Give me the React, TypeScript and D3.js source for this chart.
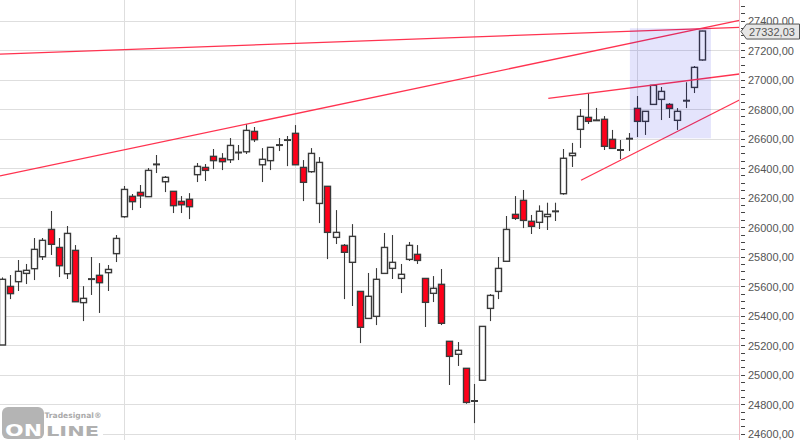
import React from "react";
import * as d3 from "d3";

const highs = [25663,25679,25781,25754,25930,25930,26113,25930,26011,25882,25604,25801,25760,25747,25950,26282,26228,26289,26404,26492,26350,26246,26214,26234,26438,26431,26533,26505,26607,26560,26702,26682,26539,26544,26607,26621,26695,26458,26539,26478,26280,26119,25889,26024,25568,25693,25726,25964,25950,25754,25903,25882,25656,25672,25720,25230,25225,25047,24941,25331,25550,25801,26079,26214,26255,26086,26151,26169,26169,26533,26574,26804,26912,26811,26756,26662,26594,26641,26892,26788,26964,26953,26844,26810,26985,27095,27334];
const lows = [25205,25516,25571,25618,25645,25781,25815,25665,25652,25498,25367,25544,25422,25571,25767,26067,26119,26133,26210,26370,26241,26099,26099,26058,26309,26316,26397,26390,26438,26458,26499,26580,26309,26390,26519,26417,26426,26180,26372,26031,25787,25889,25516,25469,25218,25381,25340,25690,25652,25557,25774,25754,25327,25496,25340,24934,25063,24807,24676,24966,25367,25516,25772,26052,25997,25957,25991,25984,26045,26223,26411,26540,26702,26725,26526,26537,26465,26519,26614,26628,26835,26729,26743,26662,26810,26912,27131];
const opens = [25205,25602,25634,25690,25722,25803,25988,25866,25688,25846,25492,25647,25677,25695,25824,26074,26212,26239,26210,26426,26311,26246,26178,26192,26359,26408,26483,26469,26460,26508,26514,26652,26426,26454,26557,26591,26639,26408,26379,26164,26280,25934,25880,25765,25568,25385,25399,25690,25724,25656,25785,25819,25656,25555,25616,25230,25142,25047,24821,24966,25453,25568,25772,26090,26185,26043,26036,26075,26108,26230,26488,26666,26747,26725,26734,26598,26524,26600,26808,26720,26835,26869,26835,26727,26858,26950,27136];
const closes = [25650,25553,25704,25711,25853,25914,25887,25742,25961,25498,25521,25656,25627,25717,25927,26259,26176,26216,26388,26431,26341,26149,26155,26142,26415,26388,26454,26447,26557,26510,26659,26596,26463,26544,26562,26596,26426,26307,26503,26442,25968,25968,25833,25941,25325,25535,25650,25866,25765,25684,25880,25778,25494,25589,25352,25128,25169,24816,24830,25331,25541,25724,25988,26063,26049,26009,26111,26090,26113,26470,26504,26754,26720,26729,26551,26537,26528,26605,26720,26788,26964,26923,26808,26788,26862,27086,27332];

// [index, price, index, price]
const trendLines = [
  [-0.28, 27176, 90.56, 27357],
  [-0.28, 26350, 90.56, 27405],
  [67.08, 26876, 90.56, 27041],
  [71.1, 26321, 90.56, 26865],
];
const zoneIndex = [77.1, 87.06];
const zonePrice = [26605, 27351];
const verticalGridAt = [15, 36, 58, 78];
const priceLabels = [24600,24800,25000,25200,25400,25600,25800,26000,26200,26400,26600,26800,27000,27200,27400];
const minorTicks = d3.range(24600, 27551, 50);
const lastPrice = "27332,03";
const lastValue = 27332;

const W = 800, H = 440;
const x = d3.scaleLinear().domain([0, 86]).range([2.3, 702.3]);
const y = d3.scaleLinear().domain([24600, 27400]).range([434.3, 21]);
const crisp = (v: number) => Math.round(v - 0.5) + 0.5;
const axisX = 739.5;
const fontUI = "'Liberation Sans', Arial, sans-serif";
const fontLogo = "'DejaVu Sans', sans-serif";

export default function App() {
  const line = d3.line<[number, number]>().x(d => x(d[0])).y(d => y(d[1]));
  return (
    <svg width={W} height={H} viewBox={`0 0 ${W} ${H}`}
      style={{ position: "fixed", left: 0, top: 0, background: "#fff", display: "block" }}>
      {priceLabels.map(p => (
        <line key={p} x1={0} x2={axisX} y1={crisp(y(p))} y2={crisp(y(p))} stroke="#dedede" strokeWidth={1} />
      ))}
      {verticalGridAt.map(i => (
        <line key={i} x1={crisp(x(i))} x2={crisp(x(i))} y1={0} y2={H} stroke="#dedede" strokeWidth={1} />
      ))}
      {highs.map((h, i) => {
        const cx = crisp(x(i));
        const top = y(Math.max(opens[i], closes[i]));
        const bot = y(Math.min(opens[i], closes[i]));
        const red = opens[i] > closes[i];
        const doji = Math.abs(opens[i] - closes[i]) < 12;
        return (
          <g key={i} stroke="#3a3a3a">
            <line x1={cx} x2={cx} y1={y(h)} y2={y(lows[i])} strokeWidth={1.1} />
            {doji
              ? <line x1={cx - 3.5} x2={cx + 3.5} y1={(top + bot) / 2} y2={(top + bot) / 2} strokeWidth={2} />
              : <rect x={cx - 3} y={top} width={6} height={bot - top} strokeWidth={1.4}
                  fill={red ? "#ff0019" : "#ffffff"} />}
          </g>
        );
      })}
      {trendLines.map((t, k) => (
        <path key={k} d={line([[t[0], t[1]], [t[2], t[3]]]) ?? ""} fill="none" stroke="#ff3350" strokeWidth={1.3} />
      ))}
      <rect x={x(zoneIndex[0])} width={x(zoneIndex[1]) - x(zoneIndex[0])}
        y={y(zonePrice[1])} height={y(zonePrice[0]) - y(zonePrice[1])}
        fill="#0000e6" fillOpacity={0.105} />
      <rect x={axisX + 0.5} y={0} width={W - axisX} height={H} fill="#fff" />
      <line x1={axisX} x2={axisX} y1={0} y2={H} stroke="#f0b9c2" strokeWidth={1} />
      {minorTicks.map(p => (
        <line key={p} x1={741} x2={745} y1={crisp(y(p))} y2={crisp(y(p))} stroke="#444" strokeWidth={1} />
      ))}
      {priceLabels.map(p => (
        <text key={p} x={748} y={y(p) + 4} fontFamily={fontUI} fontSize={11} fill="#555">
          {p + ",00"}
        </text>
      ))}
      <path d={`M741,${y(lastValue) + 0.5} L746.5,${y(lastValue) - 7} H799.5 V${y(lastValue) + 8} H746.5 Z`}
        fill="#e6e6e6" stroke="#555" strokeWidth={1} />
      <text x={749} y={y(lastValue) + 4.5} fontFamily={fontUI} fontSize={11} fill="#555">{lastPrice}</text>
      <g>
        <rect x={0} y={406} width={103} height={34} fill="#fff" />
        <rect x={2} y={407} width={42} height={32} rx={6} fill="#b4b4b4" />
        <text x={5} y={436} fontFamily={fontLogo} fontWeight={700} fontSize={15} fill="#fff" textLength={37} lengthAdjust="spacingAndGlyphs">ON</text>
        <text x={46} y={435.5} fontFamily={fontLogo} fontWeight={700} fontSize={14} fill="#b0b0b0" textLength={53} lengthAdjust="spacingAndGlyphs">LINE</text>
        <text x={44.5} y={418} fontFamily={fontLogo} fontWeight={700} fontSize={7.5} fill="#aaa" textLength={57} lengthAdjust="spacingAndGlyphs">Tradesignal®</text>
      </g>
    </svg>
  );
}
